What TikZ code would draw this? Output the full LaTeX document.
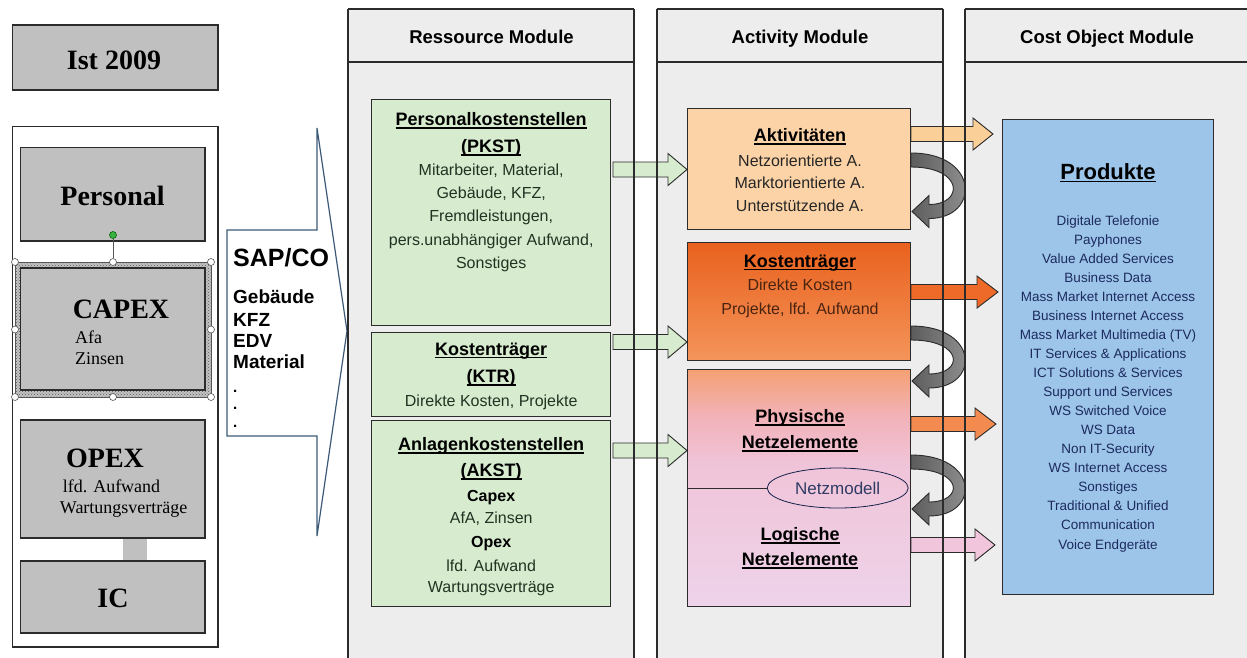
\documentclass[tikz,border=0pt]{standalone}
\usepackage{fontspec}
\setmainfont{Liberation Sans}
\newfontfamily\tmsfont{Liberation Serif}
\usetikzlibrary{patterns,shapes.geometric}
\definecolor{lineC}{HTML}{2B2B2B}
\definecolor{panelbg}{HTML}{EDEDED}
\definecolor{boxgray}{HTML}{C0C0C0}
\definecolor{selgray}{HTML}{C4C4C4}
\definecolor{seldot}{HTML}{555555}
\definecolor{grn}{HTML}{D7EBCF}
\definecolor{grntxt}{HTML}{223322}
\definecolor{peach}{HTML}{FCD3A6}
\definecolor{korTop}{HTML}{E9611D}
\definecolor{korBot}{HTML}{F4945A}
\definecolor{netzTop}{HTML}{F4A072}
\definecolor{netzUp}{HTML}{F2B2B8}
\definecolor{netzMid}{HTML}{F0C4D8}
\definecolor{netzBot}{HTML}{EED3EA}
\definecolor{prodblue}{HTML}{9DC5EA}
\definecolor{navy}{HTML}{1C2A5E}
\definecolor{sapline}{HTML}{3C5A78}
\definecolor{curvA}{HTML}{5C5C5C}
\definecolor{curvB}{HTML}{9A9A9A}
\definecolor{arrPeach}{HTML}{FBCF98}
\definecolor{arrOrange}{HTML}{EE6A28}
\definecolor{arrSalmon}{HTML}{F38A50}
\definecolor{arrPink}{HTML}{F1C6DD}
\definecolor{brownTxt}{HTML}{4A2410}
\definecolor{rotgreen}{HTML}{3CB043}
\pgfdeclareverticalshading{netzshade}{100bp}{color(0bp)=(netzBot); color(25bp)=(netzBot); color(55bp)=(netzMid); color(65bp)=(netzUp); color(75bp)=(netzTop); color(100bp)=(netzTop)}
\newcommand\undl[1]{\setbox0=\hbox{#1}\rlap{\rule[-3pt]{\wd0}{1.1pt}}\box0}
\tikzset{
  pline/.style={draw=lineC, line width=1.2pt},
  gbox/.style={draw=lineC, line width=1.3pt, fill=boxgray, inner sep=0pt},
  cbox/.style={draw=lineC, line width=1pt, inner sep=0pt},
  blk/.style={draw=lineC, line width=0.9pt, line join=miter},
  tx/.style={anchor=base, inner sep=0pt},
  hdr/.style={tx, font=\fontsize{18.5}{20}\selectfont\bfseries},
  ttl/.style={tx, font=\fontsize{18}{20}\selectfont\bfseries},
  bod/.style={tx, font=\fontsize{16}{18}\selectfont},
  sbig/.style={tx, font=\tmsfont\fontsize{28}{30}\selectfont\bfseries},
  ssmall/.style={tx, font=\tmsfont\fontsize{18}{20}\selectfont},
  saptx/.style={tx, anchor=base west, font=\fontsize{19}{21}\selectfont\bfseries},
  plist/.style={tx, font=\fontsize{13.5}{15}\selectfont, text=navy},
  handle/.style={circle, draw=seldot, fill=white, line width=0.6pt, inner sep=0pt, minimum size=7pt},
}
\begin{document}
\begin{tikzpicture}[x=1pt,y=-1pt]
\useasboundingbox (0,0) rectangle (1247,657);
\clip (0,0) rectangle (1247,657);
\fill[white] (0,0) rectangle (1247,657);

% ---------- panels ----------
\fill[panelbg] (348,9) rectangle (634,660);
\fill[panelbg] (657,9) rectangle (943,660);
\fill[panelbg] (965,9) rectangle (1260,660);
\node[hdr] (hres) at (491.5,43) {Ressource Module};
\node[hdr] (hact) at (800,43) {Activity Module};
\node[hdr] (hcost) at (1107,43) {Cost Object Module};

% ---------- left column ----------
\node[gbox, minimum width=205.3pt, minimum height=65pt] (ist) at (115.35,57.5) {};
\node[draw=lineC, line width=1.2pt, fill=white, minimum width=205.3pt, minimum height=520.5pt, inner sep=0pt] (frame) at (115.35,386.75) {};
\node[gbox, minimum width=184.3pt, minimum height=93.5pt] (pers) at (112.85,194.25) {};
\fill[selgray] (15,262) rectangle (211,397);
\fill[pattern=crosshatch dots, pattern color=seldot] (15,262) rectangle (211,397);
\draw[seldot, line width=0.5pt] (15,262) rectangle (211,397);
\node[gbox, minimum width=184.3pt, minimum height=122pt] (capex) at (112.85,329) {};
\node[gbox, minimum width=184.3pt, minimum height=118pt] (opex) at (112.85,479) {};
\node[gbox, minimum width=184.3pt, minimum height=72pt] (ic) at (112.85,597) {};
\draw[boxgray, line width=24pt] ([xshift=22pt]opex.south) -- ([xshift=22pt]ic.north);
\foreach \p [count=\i] in {(15,262),(113,262),(211,262),(15,329.5),(211,329.5),(15,397),(113,397),(211,397)}
  \node[handle] (h\i) at \p {};
\node[circle, draw=green!40!black, fill=rotgreen, line width=0.6pt, inner sep=0pt, minimum size=7pt] (rot) at (113,235) {};
\draw[seldot, line width=0.8pt] (rot) -- (h2);

\node[sbig] (tIst) at (114,69) {Ist 2009};
\node[sbig] (tPers) at (112.5,205) {Personal};
\node[sbig] (tCap) at (121,318) {CAPEX};
\node[ssmall, anchor=base west] (tAfa) at (75,343.5) {Afa};
\node[ssmall, anchor=base west] (tZin) at (75,364.5) {Zinsen};
\node[sbig] (tOpex) at (105,467) {OPEX};
\node[ssmall] (tLfd) at (111.5,492) {lfd. Aufwand};
\node[ssmall] (tWar) at (123.7,513) {Wartungsverträge};
\node[sbig] (tIC) at (113,607) {IC};

% ---------- SAP/CO block arrow ----------
\draw[draw=sapline, line width=1.2pt, fill=white, line join=miter] (227,230) -- (317,230) -- (317,128) -- (347,331) -- (317,536) -- (317,436) -- (227,436) -- cycle;
\node[tx, anchor=base west, font=\fontsize{25}{27}\selectfont\bfseries] (sap) at (233,266) {SAP/CO};
\foreach \t/\y [count=\i] in {Gebäude/303.7, KFZ/326, EDV/347, Material/368.6}
  \node[saptx] (sap\i) at (233,\y) {\t};
\foreach \y [count=\i] in {392, 409, 427}
  \node[tx, anchor=base west, font=\fontsize{15}{17}\selectfont\bfseries] (dot\i) at (233,\y) {.};

% ---------- resource boxes ----------
\node[cbox, fill=grn, minimum width=239pt, minimum height=226pt] (pkst) at (491.2,212) {};
\node[cbox, fill=grn, minimum width=239pt, minimum height=84pt] (ktr) at (491.2,374) {};
\node[cbox, fill=grn, minimum width=239pt, minimum height=186pt] (akst) at (491.2,513) {};

\node[ttl] (pk1) at (491.2,125.5) {\undl{Personalkostenstellen}};
\node[ttl] (pk2) at (491.2,152.5) {\undl{(PKST)}};
\foreach \t/\y [count=\i] in {{Mitarbeiter, Material,}/175.5, {Gebäude, KFZ,}/198.5, {Fremdleistungen,}/221.5, {pers.unabhängiger Aufwand,}/245.5, {Sonstiges}/268.5}
  \node[bod, text=grntxt] (pkb\i) at (491.2,\y) {\t};
\node[ttl] (kt1) at (491.2,355) {\undl{Kostenträger}};
\node[ttl] (kt2) at (491.2,382.5) {\undl{(KTR)}};
\node[bod, text=grntxt] (ktb) at (491.2,406.5) {Direkte Kosten, Projekte};
\node[ttl] (ak1) at (491.2,450.5) {\undl{Anlagenkostenstellen}};
\node[ttl] (ak2) at (491.2,476.5) {\undl{(AKST)}};
\node[bod, font=\fontsize{16}{18}\selectfont\bfseries] (ak3) at (491.2,501.5) {Capex};
\node[bod, text=grntxt] (ak4) at (491.2,523.5) {AfA, Zinsen};
\node[bod, font=\fontsize{16}{18}\selectfont\bfseries] (ak5) at (491.2,547.5) {Opex};
\node[bod, text=grntxt] (ak6) at (491.2,571) {lfd. Aufwand};
\node[bod, text=grntxt] (ak7) at (491.2,592.5) {Wartungsverträge};

% ---------- activity boxes ----------
\node[cbox, fill=peach, minimum width=222.7pt, minimum height=121.6pt] (akt) at (798.7,168.8) {};
\node[cbox, top color=korTop, bottom color=korBot, minimum width=222.7pt, minimum height=118pt] (kost) at (798.7,301) {};
\node[cbox, shading=netzshade, minimum width=222.7pt, minimum height=237pt] (netz) at (798.7,487.5) {};
\node[ellipse, draw=navy!80!black, line width=0.8pt, minimum width=141pt, minimum height=40pt, inner sep=0pt, font=\fontsize{17}{19}\selectfont, text=navy!80!gray] (nm) at (837.7,488) {Netzmodell};
\draw[lineC, line width=1pt] (netz.west |- nm.west) -- (nm.west);

\node[ttl] (ac1) at (800,141.5) {\undl{Aktivitäten}};
\foreach \t/\y [count=\i] in {Netzorientierte A./166.5, Marktorientierte A./188.5, Unterstützende A./211.5}
  \node[bod, text=black!85] (acb\i) at (800,\y) {\t};
\node[ttl] (ko1) at (800,267) {\undl{Kostenträger}};
\node[bod, text=brownTxt] (ko2) at (800,290.5) {Direkte Kosten};
\node[bod, text=brownTxt] (ko3) at (800,314.5) {Projekte, lfd. Aufwand};
\node[ttl] (ne1) at (800,422.5) {\undl{Physische}};
\node[ttl] (ne2) at (800,448.5) {\undl{Netzelemente}};
\node[ttl] (ne3) at (800,540.5) {\undl{Logische}};
\node[ttl] (ne4) at (800,565.5) {\undl{Netzelemente}};

% ---------- products ----------
\node[cbox, fill=prodblue, minimum width=210.6pt, minimum height=474.6pt] (prod) at (1108,356.7) {};
\node[tx, font=\fontsize{22}{24}\selectfont\bfseries] (prodt) at (1108,179) {\undl{Produkte}};
\foreach \t [count=\i] in {Digitale Telefonie, Payphones, Value Added Services, Business Data, Mass Market Internet Access, Business Internet Access, Mass Market Multimedia (TV), IT Services \& Applications, ICT Solutions \& Services, Support und Services, WS Switched Voice, WS Data, Non IT-Security, WS Internet Access, Sonstiges, Traditional \& Unified, Communication, Voice Endgeräte}
  \node[plist] (pl\i) at (1108,{225.5+(\i-1)*19.03}) {\t};

% ---------- block arrows ----------
\foreach \c in {169.5, 342, 450.5}
  \draw[blk, fill=grn] (613,\c-7.5) -- (668,\c-7.5) -- (668,\c-16) -- (687,\c) -- (668,\c+16) -- (668,\c+7.5) -- (613,\c+7.5) -- cycle;
\foreach \c/\hb/\tp/\col in {134/973/993/arrPeach, 292/977/998/arrOrange, 424/975/996/arrSalmon, 545/975/995/arrPink}
  \draw[blk, fill=\col] (911,\c-7.5) -- (\hb,\c-7.5) -- (\hb,\c-16) -- (\tp,\c) -- (\hb,\c+16) -- (\hb,\c+7.5) -- (911,\c+7.5) -- cycle;
\foreach \s/\t in {153/211.5, 326/381, 455/509}
  \draw[blk, left color=curvA, right color=curvB] (911,\s) .. controls (980,\s) and (980,\t+7) .. (929,\t+7) -- (929,\t+16) -- (912,\t) -- (929,\t-16) -- (929,\t-7) .. controls (964,\t-7) and (964,\s+14) .. (911,\s+14) -- cycle;

% ---------- panel borders on top ----------
\foreach \x in {348,634,657,943,965}
  \draw[pline] (\x,9) -- (\x,660);
\draw[pline] (348,9) -- (634,9) (657,9) -- (943,9) (965,9) -- (1260,9);
\draw[pline] (348,62) -- (634,62) (657,62) -- (943,62) (965,62) -- (1260,62);
\end{tikzpicture}
\end{document}
